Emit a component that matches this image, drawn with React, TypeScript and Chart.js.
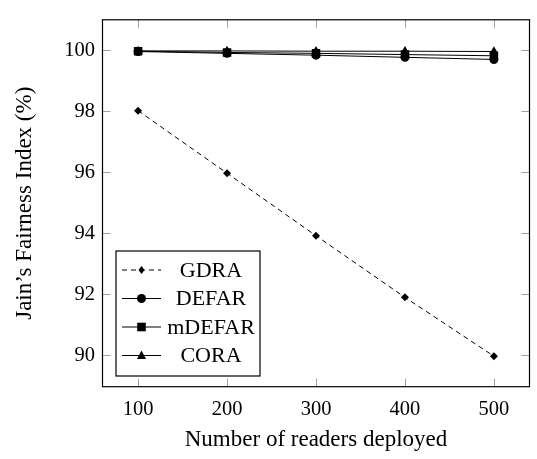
import React, { useEffect, useRef } from "react";
import { Chart, registerables } from "chart.js";

Chart.register(...registerables);

const readers = [100, 200, 300, 400, 500];
const gdra = [98.02, 95.97, 93.92, 91.9, 89.97];
const defar = [99.96, 99.9, 99.84, 99.77, 99.7];
const mdefar = [99.97, 99.93, 99.9, 99.86, 99.82];
const cora = [99.98, 99.98, 99.97, 99.97, 99.96];
const xTicks = [100, 200, 300, 400, 500];
const yTicks = [90, 92, 94, 96, 98, 100];
const seriesNames = ["GDRA", "DEFAR", "mDEFAR", "CORA"];

const FONT = "'Liberation Serif', 'DejaVu Serif', serif";

function drawMarker(ctx: CanvasRenderingContext2D, style: string, x: number, y: number) {
  ctx.save();
  ctx.fillStyle = "#000";
  ctx.beginPath();
  if (style === "diamond") {
    ctx.moveTo(x, y - 4);
    ctx.lineTo(x + 3, y);
    ctx.lineTo(x, y + 4);
    ctx.lineTo(x - 3, y);
    ctx.closePath();
  } else if (style === "circle") {
    ctx.arc(x, y, 4.5, 0, Math.PI * 2);
  } else if (style === "square") {
    ctx.rect(x - 4.3, y - 4.3, 8.6, 8.6);
  } else {
    ctx.moveTo(x, y - 5);
    ctx.lineTo(x + 4.5, y + 3.5);
    ctx.lineTo(x - 4.5, y + 3.5);
    ctx.closePath();
  }
  ctx.fill();
  ctx.restore();
}

const framePlugin = {
  id: "frame",
  beforeDatasetsDraw(chart: any) {
    const { ctx, chartArea: a, scales } = chart;
    ctx.save();
    ctx.strokeStyle = "#a0a0a0";
    ctx.lineWidth = 1;
    const L = 8;
    xTicks.forEach((v) => {
      const x = Math.round(scales.x.getPixelForValue(v)) + 0.5;
      ctx.beginPath();
      ctx.moveTo(x, a.bottom);
      ctx.lineTo(x, a.bottom - L);
      ctx.moveTo(x, a.top);
      ctx.lineTo(x, a.top + L);
      ctx.stroke();
    });
    yTicks.forEach((v) => {
      const y = Math.round(scales.y.getPixelForValue(v)) + 0.5;
      ctx.beginPath();
      ctx.moveTo(a.left, y);
      ctx.lineTo(a.left + L, y);
      ctx.moveTo(a.right, y);
      ctx.lineTo(a.right - L, y);
      ctx.stroke();
    });
    ctx.restore();
  },
  afterDatasetsDraw(chart: any) {
    const { ctx, chartArea: a } = chart;
    ctx.save();
    ctx.strokeStyle = "#000";
    ctx.lineWidth = 1.2;
    ctx.strokeRect(a.left, a.top, a.right - a.left, a.bottom - a.top);

    // legend
    const bx = 116, by = 251, bw = 144, bh = 125;
    ctx.fillStyle = "#fff";
    ctx.fillRect(bx, by, bw, bh);
    ctx.strokeRect(bx, by, bw, bh);
    const styles = ["diamond", "circle", "square", "triangle"];
    ctx.font = `22px ${FONT}`;
    ctx.textAlign = "center";
    ctx.textBaseline = "middle";
    seriesNames.forEach((name, i) => {
      const y = 270 + i * 28.5;
      ctx.strokeStyle = "#000";
      ctx.lineWidth = 1;
      ctx.setLineDash(i === 0 ? [5, 4] : []);
      ctx.beginPath();
      ctx.moveTo(122, y);
      ctx.lineTo(161, y);
      ctx.stroke();
      ctx.setLineDash([]);
      drawMarker(ctx, styles[i], 141.5, y);
      ctx.fillStyle = "#000";
      ctx.fillText(name, 211, y + 1);
    });
    ctx.restore();
  },
};

export default function App() {
  const ref = useRef<HTMLCanvasElement>(null);
  useEffect(() => {
    if (!ref.current) return;
    const mk = (vals: number[]) => readers.map((x, i) => ({ x, y: vals[i] }));
    const base = {
      borderColor: "#000",
      backgroundColor: "#000",
      borderWidth: 1,
      pointBorderWidth: 0,
      tension: 0,
      fill: false,
    };
    const chart = new Chart(ref.current, {
      type: "line",
      data: {
        datasets: [
          { ...base, label: seriesNames[0], data: mk(gdra), borderDash: [5, 4], pointStyle: "rectRot", pointRadius: 4 },
          { ...base, label: seriesNames[1], data: mk(defar), pointStyle: "circle", pointRadius: 4.5 },
          { ...base, label: seriesNames[2], data: mk(mdefar), pointStyle: "rect", pointRadius: 6 },
          { ...base, label: seriesNames[3], data: mk(cora), pointStyle: "triangle", pointRadius: 5.2 },
        ],
      },
      options: {
        responsive: false,
        animation: false,
        layout: { padding: { top: 6.7, right: 7.5, left: 0, bottom: 0 } },
        plugins: { legend: { display: false }, tooltip: { enabled: false }, title: { display: false } },
        scales: {
          x: {
            type: "linear",
            min: 60,
            max: 540,
            afterBuildTicks: (s: any) => { s.ticks = xTicks.map((v) => ({ value: v })); },
            afterFit: (s: any) => { s.height = 72.3; },
            grid: { display: false, drawTicks: false },
            border: { display: false },
            ticks: { color: "#000", font: { family: FONT, size: 20.5 }, padding: 11, maxRotation: 0 },
            title: { display: true, text: "Number of readers deployed", color: "#000", font: { family: FONT, size: 23 }, padding: { top: 0, bottom: 5 } },
          },
          y: {
            type: "linear",
            min: 88.97,
            max: 101.0,
            afterBuildTicks: (s: any) => { s.ticks = yTicks.map((v) => ({ value: v })); },
            afterFit: (s: any) => { s.width = 102.5; },
            grid: { display: false, drawTicks: false },
            border: { display: false },
            ticks: { color: "#000", font: { family: FONT, size: 20.5 }, padding: 7.5 },
            title: { display: true, text: "Jain\u2019s Fairness Index (%)", color: "#000", font: { family: FONT, size: 23 }, padding: { top: 11, bottom: 0 } },
          },
        },
      },
      plugins: [framePlugin],
    } as any);
    return () => chart.destroy();
  }, []);
  return (
    <div style={{ position: "fixed", left: 0, top: 0, width: 537, height: 459, background: "#fff" }}>
      <canvas ref={ref} width={537} height={459} style={{ display: "block" }} />
    </div>
  );
}
